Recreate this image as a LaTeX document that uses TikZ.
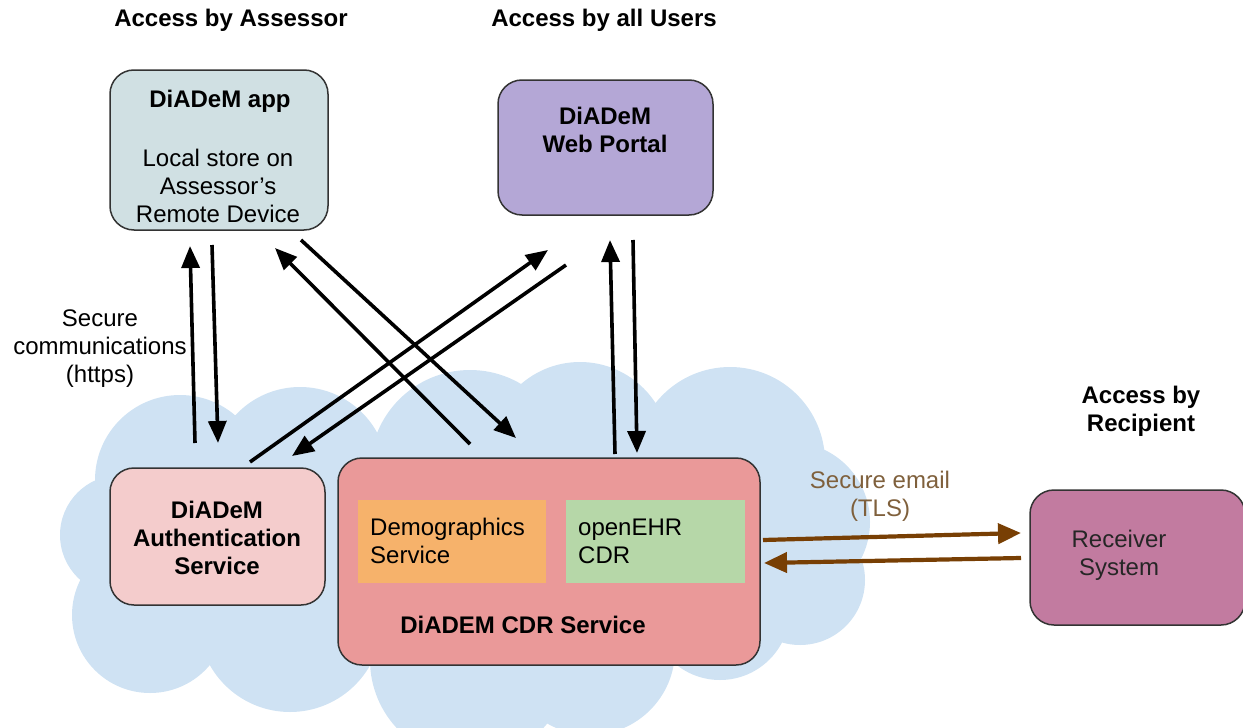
\documentclass[tikz,border=0pt]{standalone}
\usepackage{fontspec}
\setmainfont{Liberation Sans}
\usetikzlibrary{arrows.meta}
\definecolor{appfill}{HTML}{D0E0E3}
\definecolor{portalfill}{HTML}{B4A7D6}
\definecolor{authfill}{HTML}{F4CCCC}
\definecolor{cdrfill}{HTML}{EA9999}
\definecolor{demofill}{HTML}{F6B26B}
\definecolor{ehrfill}{HTML}{B6D7A8}
\definecolor{recvfill}{HTML}{C27BA0}
\definecolor{cloudfill}{HTML}{CFE2F3}
\definecolor{brownarrow}{HTML}{783F04}
\definecolor{browntext}{RGB}{127,96,60}
\definecolor{boxline}{HTML}{333333}
\tikzset{
  box/.style={draw=boxline, line width=1.5pt, rounded corners=24pt, inner sep=0pt},
  inbox/.style={draw=none, inner sep=0pt},
  txt/.style={font=\fontsize{24}{28}\selectfont, inner sep=0pt, align=center},
  btxt/.style={font=\fontsize{24}{28}\selectfont\bfseries, inner sep=0pt, align=center},
  blackarrow/.style={line width=3.6pt, -{Triangle[length=22pt,width=18pt]}},
  brownarr/.style={draw=brownarrow, line width=4.2pt, -{Triangle[length=23pt,width=20pt]}, color=brownarrow},
}
\begin{document}
\begin{tikzpicture}[x=1pt,y=-1pt]
\useasboundingbox (0,0) rectangle (1243,728);
% cloud
\begin{scope}
\clip (0,0) rectangle (1243,728);
\fill[cloudfill]
  (180,480) circle (85)
  (120,535) circle (60)
  (150,615) circle (78)
  (300,475) circle (88)
  (470,470) circle (100)
  (580,452) circle (90)
  (730,462) circle (95)
  (790,522) circle (80)
  (800,580) circle (65)
  (720,610) circle (70)
  (590,650) circle (85)
  (470,660) circle (100)
  (290,620) circle (92)
  (500,540) circle (150);
\end{scope}

% titles
\node[btxt] (tassessor) at (231,20) {Access by Assessor};
\node[btxt] (tusers) at (604,20) {Access by all Users};
\node[btxt] (trecip) at (1141,411) {Access by\\Recipient};

% boxes
\node[box, fill=appfill, minimum width=218pt, minimum height=160pt] (app) at (219,150) {};
\node[btxt] (apptitle) at (220,101) {DiADeM app};
\node[txt] (appbody) at (218,186) {Local store on\\Assessor's\\Remote Device};

\node[box, fill=portalfill, minimum width=215pt, minimum height=135pt] (portal) at (605.5,147.5) {};
\node[btxt] (portaltxt) at (605,130) {DiADeM\\Web Portal};

\node[box, fill=authfill, minimum width=215pt, minimum height=137pt] (auth) at (217.5,536.5) {};
\node[btxt] (authtxt) at (217,538) {DiADeM\\Authentication\\Service};

\node[box, fill=cdrfill, minimum width=422pt, minimum height=207pt] (cdr) at (549,561.5) {};
\node[inbox, fill=demofill, minimum width=188pt, minimum height=83pt] (demo) at (452,541.5) {};
\node[inbox, fill=ehrfill, minimum width=179pt, minimum height=83pt] (ehr) at (655.5,541.5) {};
\node[txt, align=left, anchor=west] (demotxt) at (370,541) {Demographics\\Service};
\node[txt, align=left, anchor=west] (ehrtxt) at (578,541) {openEHR\\CDR};
\node[btxt] (cdrtxt) at (523,625) {DiADEM CDR Service};

\node[box, fill=recvfill, minimum width=215pt, minimum height=135pt] (recv) at (1137.5,557.5) {};
\node[txt, text=black!85] (recvtxt) at (1119,555) {Receiver\\System};

% labels
\node[txt] (https) at (100,349) {Secure\\communications\\(https)};
\node[txt, text=browntext] (tls) at (880,496) {Secure email\\(TLS)};

% arrow end points
\coordinate (a1s) at (195,443); \coordinate (a1e) at (190,246);
\coordinate (a2s) at (212,245); \coordinate (a2e) at (218,443);
\coordinate (a3s) at (301,240); \coordinate (a3e) at (516,438);
\coordinate (a4s) at (470,444); \coordinate (a4e) at (275,248);
\coordinate (a5s) at (250,462); \coordinate (a5e) at (548,250);
\coordinate (a6s) at (566,265); \coordinate (a6e) at (292,456);
\coordinate (a7s) at (615,454); \coordinate (a7e) at (610,240);
\coordinate (a8s) at (633,240); \coordinate (a8e) at (637,453);
\coordinate (b1s) at (763,540); \coordinate (b1e) at (1021,533);
\coordinate (b2s) at (1021,558); \coordinate (b2e) at (764,563);

\draw[blackarrow] (a1s) -- (a1e);
\draw[blackarrow] (a2s) -- (a2e);
\draw[blackarrow] (a3s) -- (a3e);
\draw[blackarrow] (a4s) -- (a4e);
\draw[blackarrow] (a5s) -- (a5e);
\draw[blackarrow] (a6s) -- (a6e);
\draw[blackarrow] (a7s) -- (a7e);
\draw[blackarrow] (a8s) -- (a8e);
\draw[brownarr] (b1s) -- (b1e);
\draw[brownarr] (b2s) -- (b2e);
\end{tikzpicture}
\end{document}
